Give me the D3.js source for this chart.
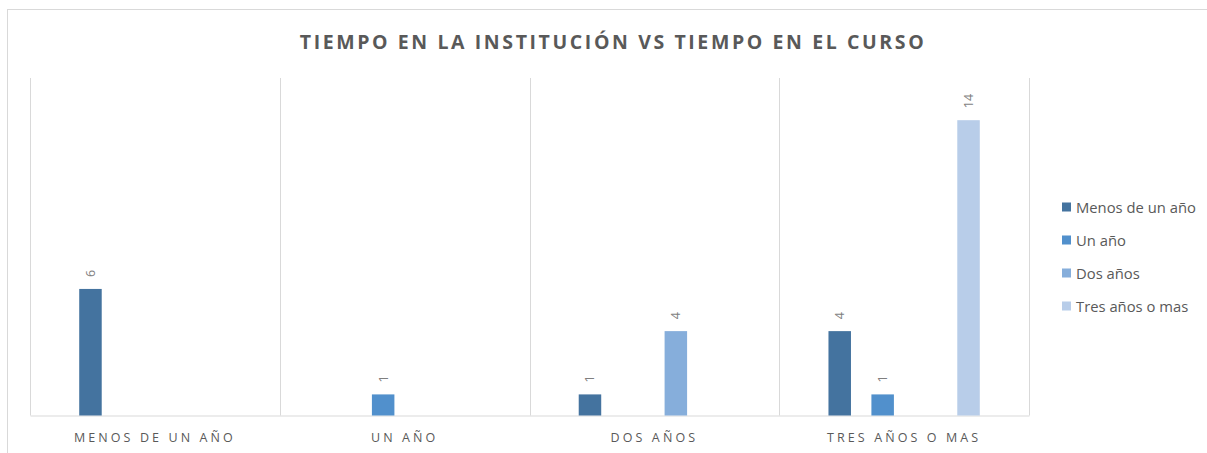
<!DOCTYPE html>
<html>
<head>
<meta charset="utf-8">
<script src="https://cdn.jsdelivr.net/npm/d3@7"></script>
<style>
  html, body { margin: 0; padding: 0; background: #fff; }
  svg { display: block; }
</style>
</head>
<body>
<svg id="chart" width="1207" height="453"></svg>
<script>
const title = "TIEMPO EN LA INSTITUCIÓN VS TIEMPO EN EL CURSO";
const categories = ["MENOS DE UN AÑO", "UN AÑO", "DOS AÑOS", "TRES AÑOS O MAS"];
const seriesNames = ["Menos de un año", "Un año", "Dos años", "Tres años o mas"];
const seriesColors = ["#44739f", "#5190cc", "#86aedb", "#b8cde9"];
// values[series][category]; null = no bar
const menosDeUnAno = [6, null, 1, 4];
const unAno = [null, 1, null, 1];
const dosAnos = [null, null, 4, null];
const tresAnosOMas = [null, null, null, 14];
const seriesValues = [menosDeUnAno, unAno, dosAnos, tresAnosOMas];

const svg = d3.select("#chart");
const W = 1207, H = 453;
const plot = { left: 30, right: 1029, top: 78, bottom: 415.5 };

// outer border
svg.append("rect").attr("x", 7.5).attr("y", 9.5).attr("width", W).attr("height", H)
  .attr("fill", "none").attr("stroke", "#d9d9d9").attr("stroke-width", 1);

svg.append("text").attr("x", 613).attr("y", 49).attr("text-anchor", "middle")
  .attr("font-family", "'Open Sans', sans-serif").attr("font-weight", 700)
  .attr("font-size", 19.5).attr("letter-spacing", 2.6).attr("fill", "#595959")
  .text(title);

const x0 = d3.scaleBand().domain(categories).range([plot.left, plot.right]).padding(0);
const x1 = d3.scaleBand().domain(seriesNames).range([39, x0.bandwidth() - 39]).paddingInner(0.49).paddingOuter(0.245);
const y = d3.scaleLinear().domain([0, 16]).range([plot.bottom, plot.top]);

// vertical category separators
const seps = categories.map(c => x0(c)).concat([plot.right]);
svg.append("g").selectAll("line").data(seps).join("line")
  .attr("x1", d => Math.round(d) + 0.5).attr("x2", d => Math.round(d) + 0.5)
  .attr("y1", plot.top).attr("y2", plot.bottom)
  .attr("stroke", "#d9d9d9").attr("stroke-width", 1);

// baseline axis
const xAxis = d3.axisBottom(x0).tickSize(0).tickPadding(0);
const gx = svg.append("g").attr("transform", `translate(0,${plot.bottom})`).call(xAxis);
gx.select(".domain").attr("stroke", "#d9d9d9");
gx.selectAll("text").attr("font-family", "'Open Sans', sans-serif").attr("font-size", 12.5)
  .attr("letter-spacing", 3.1).attr("fill", "#595959").attr("dy", 0).attr("y", 26);

// bars
const bars = [];
seriesValues.forEach((vals, si) => {
  vals.forEach((v, ci) => {
    if (v !== null) bars.push({ s: seriesNames[si], si, c: categories[ci], v });
  });
});
const bw = 22.5;
svg.append("g").selectAll("rect").data(bars).join("rect")
  .attr("x", d => x0(d.c) + x1(d.s) + (x1.bandwidth() - bw) / 2)
  .attr("width", bw)
  .attr("y", d => y(d.v))
  .attr("height", d => y(0) - y(d.v))
  .attr("fill", d => seriesColors[d.si]);

// data labels
svg.append("g").selectAll("text").data(bars).join("text")
  .attr("transform", d => `translate(${x0(d.c) + x1(d.s) + x1.bandwidth() / 2 + 4.5},${y(d.v) - 12}) rotate(-90)`)
  .attr("text-anchor", "start")
  .attr("font-family", "'Open Sans', sans-serif").attr("font-size", 12.5).attr("fill", "#7f7f7f")
  .text(d => d.v);

// legend
const lg = svg.append("g");
seriesNames.forEach((n, i) => {
  const ly = 207 + i * 33;
  lg.append("rect").attr("x", 1062).attr("y", ly - 4.5).attr("width", 9).attr("height", 9)
    .attr("fill", seriesColors[i]);
  lg.append("text").attr("x", 1076).attr("y", ly + 5.5).attr("font-family", "'Open Sans', sans-serif")
    .attr("font-size", 14.8).attr("fill", "#595959").text(n);
});
</script>
</body>
</html>
